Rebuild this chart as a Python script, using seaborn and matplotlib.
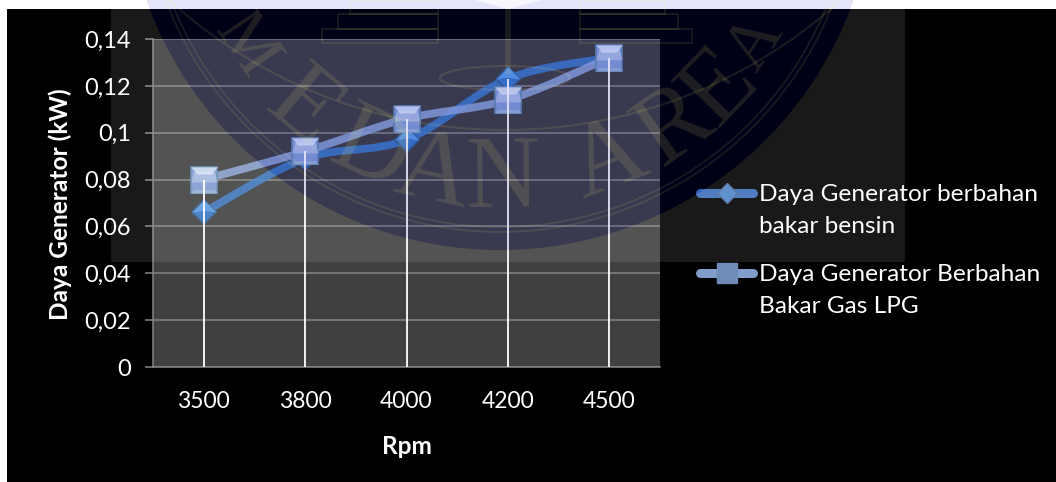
from math import cos, pi, sin

import numpy as np
import pandas as pd
import seaborn as sns
from matplotlib import pyplot as plt
from matplotlib.lines import Line2D
from matplotlib.patches import Circle, PathPatch, Polygon, Rectangle, Ellipse
from matplotlib.path import Path

rpm = ["3500", "3800", "4000", "4200", "4500"]
bensin = [0.066, 0.089, 0.097, 0.123, 0.132]
lpg = [0.080, 0.092, 0.106, 0.114, 0.132]
yticks = [0, 0.02, 0.04, 0.06, 0.08, 0.1, 0.12, 0.14]
ytick_labels = ["0", "0,02", "0,04", "0,06", "0,08", "0,1", "0,12", "0,14"]
label_bensin = "Daya Generator berbahan\nbakar bensin"
label_lpg = "Daya Generator Berbahan\nBakar Gas LPG"

W, H = 1056, 482
BLUE = "#3f7cc6"
LIGHT = "#8ea8dc"

sns.set_theme(style="dark")
plt.rcParams["font.family"] = ["Lato", "DejaVu Sans"]

df = pd.DataFrame({"Rpm": rpm, "bensin": bensin, "lpg": lpg})

fig = plt.figure(figsize=(W / 100, H / 100), dpi=100, facecolor="white")


def pixel_axes(zorder):
    a = fig.add_axes([0, 0, 1, 1], zorder=zorder, facecolor="none")
    a.set_xlim(0, W)
    a.set_ylim(H, 0)
    a.axis("off")
    return a


back = pixel_axes(0)
back.add_patch(Rectangle((7, 9), W - 7, H - 9, color="black", lw=0))

ax = fig.add_axes([153 / W, 1 - 367 / H, 507 / W, 328 / H], zorder=1, facecolor="#404040")


def smooth_path(values):
    # excel style smoothed line through the points
    pts = list(enumerate(values))
    verts = [pts[0]]
    codes = [Path.MOVETO]
    for i in range(len(pts) - 1):
        p0 = pts[max(i - 1, 0)]
        p1 = pts[i]
        p2 = pts[i + 1]
        p3 = pts[min(i + 2, len(pts) - 1)]
        c1 = (p1[0] + (p2[0] - p0[0]) / 6, p1[1] + (p2[1] - p0[1]) / 6)
        c2 = (p2[0] - (p3[0] - p1[0]) / 6, p2[1] - (p3[1] - p1[1]) / 6)
        verts += [c1, c2, p2]
        codes += [Path.CURVE4] * 3
    return Path(verts, codes)


bevel_top = Path([(-1, 1), (1, 1), (0.55, 0.45), (-0.55, 0.45), (-1, 1)], closed=True)
bevel_mid = Path([(-0.55, 0.45), (0.55, 0.45), (0.7, -0.1), (-0.7, -0.1), (-0.55, 0.45)], closed=True)
bevel_low = Path([(-1, -1), (1, -1), (0.8, -0.75), (-0.8, -0.75), (-1, -1)], closed=True)
diamond_top = Path([(0, 1), (1, 0), (0, 0.15), (-1, 0), (0, 1)], closed=True)

# lines
ax.add_patch(PathPatch(smooth_path(bensin), fill=False, ec=BLUE, lw=5.6, alpha=0.9, zorder=3, capstyle="round"))
ax.add_patch(PathPatch(smooth_path(lpg), fill=False, ec=LIGHT, lw=5.6, alpha=0.85, zorder=3.2, capstyle="round"))

# markers
sns.lineplot(data=df, x="Rpm", y="bensin", sort=False, ax=ax, linewidth=0, marker="D", markersize=12.6,
             markerfacecolor="#3a78c4", markeredgecolor="#35608f", markeredgewidth=1.2, zorder=4)
sns.scatterplot(data=df, x="Rpm", y="bensin", ax=ax, marker=diamond_top, s=300, color="#5c9be0", linewidth=0, zorder=4.1)
sns.lineplot(data=df, x="Rpm", y="lpg", sort=False, ax=ax, linewidth=0, marker="s", markersize=19,
             markerfacecolor="#7f9bd0", markeredgecolor="#6488ad", markeredgewidth=1.2, zorder=5)
sns.scatterplot(data=df, x="Rpm", y="lpg", ax=ax, marker=bevel_mid, s=361, color="white", alpha=0.3, linewidth=0, zorder=5.1)
sns.scatterplot(data=df, x="Rpm", y="lpg", ax=ax, marker=bevel_top, s=361, color="#e8effc", alpha=0.7, linewidth=0, zorder=5.2)
sns.scatterplot(data=df, x="Rpm", y="lpg", ax=ax, marker=bevel_low, s=361, color="#a9c2df", alpha=0.6, linewidth=0, zorder=5.2)

# drop lines
ax.vlines(range(len(rpm)), 0, df[["bensin", "lpg"]].max(axis=1), color="white", lw=1.3, zorder=6)

ax.set_xlim(-0.5, 4.5)
ax.set_ylim(0, 0.14)
ax.set_yticks(yticks, ytick_labels)
ax.grid(axis="y", color="#858585", lw=1.1, zorder=1)
ax.grid(axis="x", visible=False)
ax.set_axisbelow(True)
for side in ["top", "right"]:
    ax.spines[side].set_visible(False)
for side in ["left", "bottom"]:
    ax.spines[side].set_color("#858585")
    ax.spines[side].set_linewidth(1.1)
ax.tick_params(axis="y", left=True, length=6, width=1.1, color="#858585", labelcolor="white",
               labelsize=17, pad=10)
ax.tick_params(axis="x", bottom=False, labelcolor="white", labelsize=16.5, pad=11)
ax.set_xlabel("Rpm", color="white", fontweight="bold", fontsize=17.6, labelpad=16.5)
ax.set_ylabel("Daya Generator (kW)", color="white", fontweight="bold", fontsize=17.6)
ax.yaxis.set_label_coords((72 - 153) / 507, (367 - 204) / 328)

# legend
leg = pixel_axes(2)
for y, color, marker, size, face, edge, text in [
    (193, "#3d6fb8", "D", 10, "#4d86c8", "#4a6a9a", label_bensin),
    (273, "#7f9ccb", "s", 15, "#6f8bb8", "#6f8bb8", label_lpg),
]:
    leg.add_line(Line2D([700, 753], [y, y], color=color, lw=6.5, solid_capstyle="round"))
    leg.add_line(Line2D([727], [y], marker=marker, ms=size, mfc=face, mec=edge, mew=1, ls=""))
    leg.text(759, y - 9, text, color="white", fontsize=17.6, va="top", linespacing=1.62)

# pale logo lying over the whole chart
top = pixel_axes(3)
cx, cy, r = 500, -125, 375
L, R, B = 111, 905, 262
theta = np.linspace(0, 2 * pi, 721)
circle_pts = np.column_stack([cx + r * np.cos(theta), cy + r * np.sin(theta)])
rect_pts = np.array([(L, cy - r - 50), (L, B), (R, B), (R, cy - r - 50), (L, cy - r - 50)])
outside = Path.make_compound_path(Path(circle_pts, closed=True), Path(rect_pts, closed=True))
top.add_patch(PathPatch(outside, fc="white", ec="none", alpha=0.10))
top.add_patch(Circle((cx, cy), r, fc=(0, 0, 220 / 255), ec="none", alpha=0.10))

GHOST = (1, 1, 0.5)
for radius in [357, 352]:
    top.add_patch(Circle((cx, cy), radius, fill=False, ec=GHOST, lw=1.3, alpha=0.10))
top.add_patch(Circle((505, -369), 499, fill=False, ec=GHOST, lw=1.6, alpha=0.10))
top.add_patch(Ellipse((505, 78), 130, 24, fill=False, ec=GHOST, lw=1.6, alpha=0.10))
for x0, x1, y0, y1 in [(322, 438, 29, 43), (338, 438, 14, 29), (350, 438, 1, 14),
                       (580, 692, 29, 43), (580, 678, 14, 29), (580, 665, 1, 14)]:
    top.add_patch(Rectangle((x0, y0), x1 - x0, y1 - y0, fill=False, ec=GHOST, lw=1.3, alpha=0.10))
top.add_patch(Rectangle((505, 8), 6, 66, fc=GHOST, ec="none", alpha=0.10))
top.add_patch(Polygon([(475, 0), (542, 0), (508, 9)], fc="white", ec="none", alpha=0.7))

for letter, angle, size in zip("MEDANAREA", [-56, -40, -25, -12.5, 0.5, 20.8, 35, 46, 56.7],
                               [50, 74, 74, 74, 74, 74, 74, 74, 50]):
    rad = angle * pi / 180
    top.text(cx + 307 * sin(rad), cy + 307 * cos(rad), letter, family="Liberation Serif",
             fontsize=size, ha="center", va="center", rotation=angle, rotation_mode="anchor",
             color=GHOST, alpha=0.12)

plt.savefig("out.png", dpi=100, facecolor="white")
plt.close()
